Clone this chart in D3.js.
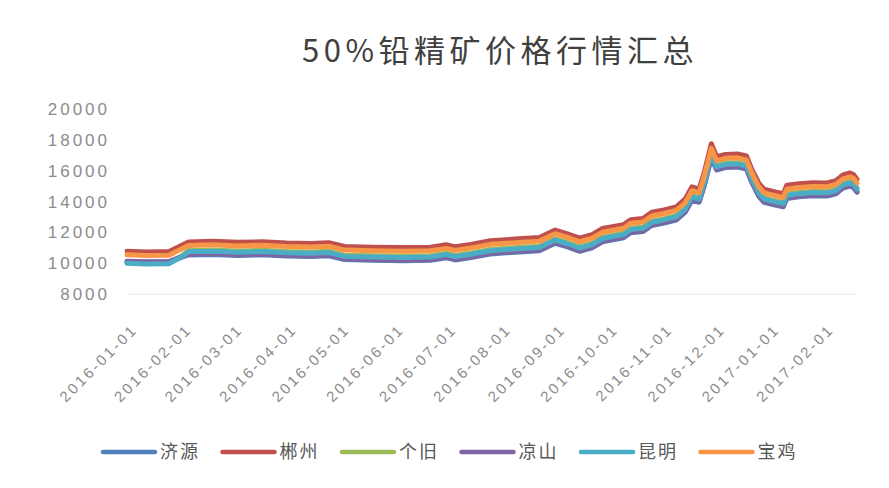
<!DOCTYPE html>
<html>
<head>
<meta charset="utf-8">
<script src="https://cdn.jsdelivr.net/npm/d3@7"></script>
<style>
  body { margin: 0; background: #fff; }
  text { font-family: "Liberation Sans", "Noto Sans CJK SC", sans-serif; }
</style>
</head>
<body>
<svg width="889" height="488"></svg>
<script>

// data

const title = "50%铅精矿价格行情汇总";

const dates = ["2016-01-01","2016-01-12","2016-01-25","2016-02-01","2016-02-05","2016-02-19","2016-03-04","2016-03-18","2016-04-01","2016-04-15",
  "2016-04-25","2016-05-04","2016-05-20","2016-06-06","2016-06-22","2016-07-01","2016-07-06","2016-07-15","2016-07-26","2016-08-09",
  "2016-08-23","2016-09-01","2016-09-08","2016-09-15","2016-09-22","2016-09-28","2016-10-10","2016-10-14","2016-10-21","2016-10-26",
  "2016-11-02","2016-11-09","2016-11-14","2016-11-18","2016-11-22","2016-11-25","2016-11-29","2016-12-02","2016-12-07","2016-12-14",
  "2016-12-19","2016-12-22","2016-12-26","2016-12-29","2017-01-05","2017-01-09","2017-01-11","2017-01-18","2017-01-26","2017-02-03",
  "2017-02-08","2017-02-12","2017-02-16","2017-02-18","2017-02-20"];

const jiyuan = [10110,10070,10090,10380,10530,10570,10500,10540,10460,10430,10480,10230,10190,10160,10190,10350,10210,10370,10600,10710,
  10810,11290,11050,10770,11000,11390,11650,11970,12050,12440,12600,12800,13290,14090,13950,15040,16850,16040,16200,16230,
  16100,15250,14350,13950,13750,13650,14200,14300,14370,14350,14500,14870,15000,14900,14600];

const chenzhou = [10770,10730,10750,11150,11380,11420,11350,11390,11310,11280,11330,11080,11040,11010,11040,11200,11060,11220,11450,11560,
  11660,12150,11900,11620,11850,12250,12500,12820,12900,13300,13450,13650,14150,14950,14800,15900,17750,16900,17050,17080,
  16950,16100,15200,14800,14600,14500,15050,15150,15220,15200,15350,15720,15850,15750,15450];

const gejiu = [10020,9980,10000,10450,10820,10860,10790,10830,10750,10720,10770,10520,10480,10450,10480,10640,10500,10660,10890,11000,
  11100,11580,11340,11060,11290,11680,11940,12260,12340,12730,12890,13090,13580,14380,14240,15330,17150,16330,16490,16520,
  16390,15540,14640,14240,14040,13940,14490,14590,14660,14640,14790,15160,15290,15190,14890];

const liangshan = [10130,10090,10110,10420,10580,10620,10550,10590,10510,10480,10530,10280,10240,10210,10240,10400,10260,10420,10650,10760,
  10860,11340,11100,10820,11050,11440,11700,12020,12100,12490,12650,12850,13340,14140,14000,15090,16900,16090,16250,16280,
  16150,15300,14400,14000,13800,13700,14250,14350,14420,14400,14550,14920,15050,14950,14650];

const kunming = [9990,9950,9970,10400,10740,10780,10710,10750,10670,10640,10690,10440,10400,10370,10400,10560,10420,10580,10810,10920,
  11020,11500,11260,10980,11210,11600,11860,12180,12260,12650,12810,13010,13500,14300,14160,15250,17060,16250,16410,16440,
  16310,15460,14560,14160,13960,13860,14410,14510,14580,14560,14710,15080,15210,15110,14810];

const baoji = [10540,10500,10520,10920,11150,11190,11120,11170,11080,11050,11100,10850,10810,10780,10810,10960,10830,10990,11220,11330,
  11430,11910,11670,11390,11620,12010,12270,12590,12670,13060,13220,13420,13900,14700,14560,15650,17450,16640,16800,16830,
  16700,15860,14960,14560,14360,14260,14800,14910,14980,14960,15100,15470,15600,15500,15200];

const seriesNames = ["济源","郴州","个旧","凉山","昆明","宝鸡"];
const seriesColors = ["#4F81BD","#C0504D","#9BBB59","#8064A2","#4BACC6","#F79646"];
const seriesValues = [jiyuan, chenzhou, gejiu, liangshan, kunming, baoji];

const yTicks = [8000,10000,12000,14000,16000,18000,20000];
const xTicks = ["2016-01-01","2016-02-01","2016-03-01","2016-04-01","2016-05-01","2016-06-01","2016-07-01",
  "2016-08-01","2016-09-01","2016-10-01","2016-11-01","2016-12-01","2017-01-01","2017-02-01"];

// scales

const svg = d3.select("svg");
const parse = d3.timeParse("%Y-%m-%d");

const x = d3.scaleTime()
  .domain([parse(dates[0]), parse(dates[dates.length - 1])])
  .range([127, 857]);

const y = d3.scaleLinear().domain([8000, 20000]).range([294, 109]);

// title

svg.append("text")
  .attr("x", 500)
  .attr("y", 62)
  .attr("text-anchor", "middle")
  .style("font-family", "'Noto Sans CJK SC', sans-serif")
  .style("font-size", "31px")
  .style("letter-spacing", "4.5px")
  .style("fill", "#404040")
  .text(title);

// y axis labels

svg.selectAll(".ylab").data(yTicks)
  .enter().append("text")
    .attr("class", "ylab")
    .attr("x", 110)
    .attr("y", d => y(d))
    .attr("dy", "0.36em")
    .attr("text-anchor", "end")
    .style("font-size", "17px")
    .style("letter-spacing", "3px")
    .style("fill", "#8c8c8c")
    .text(d => d);

// x axis line and labels

svg.append("line")
  .attr("x1", 127).attr("x2", 857)
  .attr("y1", y(8000)).attr("y2", y(8000))
  .style("stroke", "#e6e6e6")
  .style("stroke-width", 1);

svg.selectAll(".xlab").data(xTicks)
  .enter().append("text")
    .attr("class", "xlab")
    .attr("transform", d => `translate(${x(parse(d)) + 4},${y(8000) + 29}) rotate(-45)`)
    .attr("text-anchor", "end")
    .attr("dy", "0.7em")
    .style("font-size", "15px")
    .style("letter-spacing", "2.6px")
    .style("fill", "#8c8c8c")
    .text(d => d);

// lines

const line = d3.line()
  .x((d, i) => x(parse(dates[i])))
  .y(d => y(d));

svg.selectAll(".series").data(seriesValues)
  .enter().append("path")
    .attr("class", "series")
    .attr("d", d => line(d))
    .style("fill", "none")
    .style("stroke", (d, i) => seriesColors[i])
    .style("stroke-width", 5)
    .style("stroke-linejoin", "round")
    .style("stroke-linecap", "round");

// legend

const legend = svg.selectAll(".legend").data(seriesNames)
  .enter().append("g")
    .attr("class", "legend")
    .attr("transform", (d, i) => `translate(${103 + i * 119.5},452)`);

legend.append("line")
  .attr("x1", 0).attr("x2", 52)
  .style("stroke", (d, i) => seriesColors[i])
  .style("stroke-width", 4.5)
  .style("stroke-linecap", "round");

legend.append("text")
  .attr("x", 57)
  .attr("dy", "0.36em")
  .style("font-family", "'Noto Sans CJK SC', sans-serif")
  .style("font-size", "18px")
  .style("letter-spacing", "2px")
  .style("fill", "#595959")
  .text(d => d);

</script>
</body>
</html>
